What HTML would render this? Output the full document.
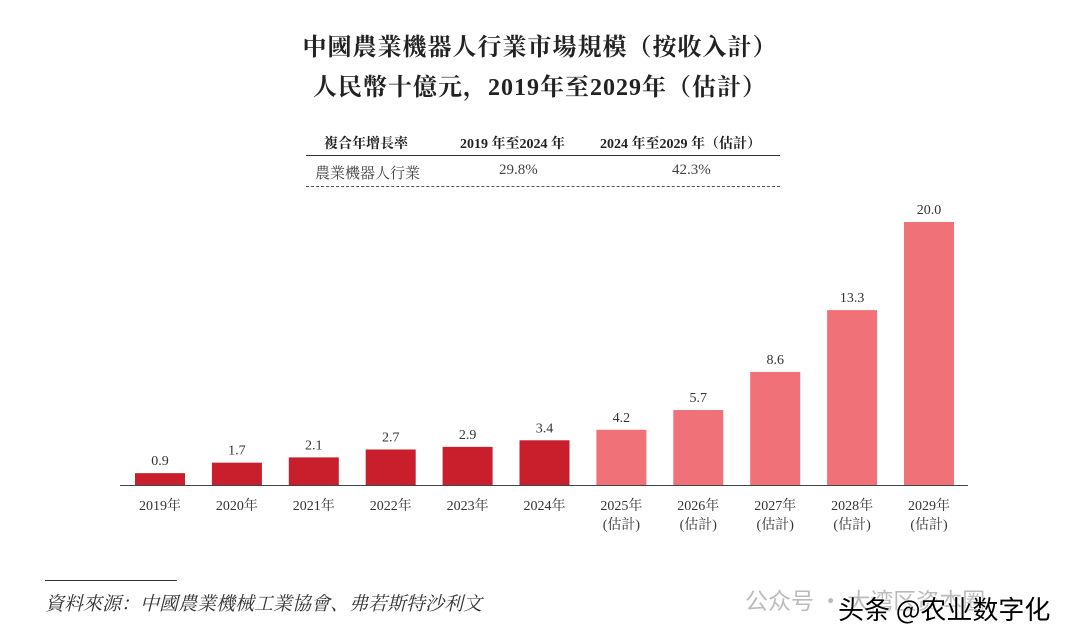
<!DOCTYPE html>
<html><head><meta charset="utf-8"><style>
body{margin:0;background:#fff;width:1080px;height:638px;overflow:hidden;position:relative;font-family:"Liberation Serif","Noto Serif CJK SC",serif;color:#222}
.t{position:absolute;left:0;width:1080px;text-align:center;font-weight:bold;font-size:24px;letter-spacing:1px}
.tb{position:absolute;font-size:14px}
</style></head><body>
<div class="t" style="top:27px">中國農業機器人行業市場規模（按收入計）</div>
<div class="t" style="top:67px">人民幣十億元，2019年至2029年（估計）</div>
<div>
<div class="tb" style="left:324px;top:133px;font-weight:bold">複合年增長率</div>
<div class="tb" style="left:460px;top:133px;font-weight:bold">2019 年至2024 年</div>
<div class="tb" style="left:600px;top:133px;font-weight:bold">2024 年至2029 年（估計）</div>
<div style="position:absolute;left:306px;top:155px;width:474px;border-top:1.5px solid #333"></div>
<div class="tb" style="left:315px;top:162px;color:#444;font-size:15px">農業機器人行業</div>
<div class="tb" style="left:499px;top:162px;color:#444;font-size:15px">29.8%</div>
<div class="tb" style="left:672px;top:162px;color:#444;font-size:15px">42.3%</div>
<div style="position:absolute;left:306px;top:186px;width:474px;border-top:1.5px dashed #555"></div>
</div>
<svg id="c" width="1080" height="638" style="position:absolute;left:0;top:0"></svg>
<div style="position:absolute;left:45px;top:580px;width:132px;border-top:1.5px solid #333"></div>
<div style="position:absolute;left:45px;top:589px;font-size:19px;font-style:italic;color:#333">資料來源：中國農業機械工業協會、弗若斯特沙利文</div>
<div style="position:absolute;left:745px;top:582px;font-size:23px;color:#bbb;font-family:'Noto Sans CJK SC',sans-serif">公众号 · 大湾区资本圈</div>
<div style="position:absolute;left:838px;top:590px;font-size:26px;color:#000;font-family:'Noto Sans CJK SC',sans-serif;text-shadow:0 0 2px #fff,0 0 2px #fff">头条 @农业数字化</div>
<script>
const years=["2019年","2020年","2021年","2022年","2023年","2024年","2025年","2026年","2027年","2028年","2029年"];
const values=[0.9,1.7,2.1,2.7,2.9,3.4,4.2,5.7,8.6,13.3,20.0];
const estimated=[false,false,false,false,false,false,true,true,true,true,true];
const svg=document.getElementById('c');const NS='http://www.w3.org/2000/svg';
const base=485,scale=263/20,x0=160,step=76.9,bw=50;
const x=i=>x0+i*step, y=v=>base-v*scale;
function mk(t,a){const e=document.createElementNS(NS,t);for(const k in a)e.setAttribute(k,a[k]);svg.appendChild(e);return e;}
years.forEach((yr,i)=>{
const r=mk('rect',{x:x(i)-bw/2,y:y(values[i]),width:bw,height:values[i]*scale,fill:estimated[i]?'#f07177':'#c91f2d'});


const l=mk('text',{x:x(i),y:y(values[i])-8,'text-anchor':'middle','font-size':'14',fill:'#333'});
l.textContent=values[i].toFixed(1);


const t=mk('text',{x:x(i),y:510,'text-anchor':'middle','font-size':'14',fill:'#333'});
t.textContent=yr;


if(estimated[i]){const t2=mk('text',{x:x(i),y:529,'text-anchor':'middle','font-size':'14',fill:'#333'});t2.textContent='(估計)';

}
});
const ax=mk('line',{x1:120,x2:968,y1:base+0.5,y2:base+0.5,stroke:'#444','stroke-width':1});


</script>
</body></html>
